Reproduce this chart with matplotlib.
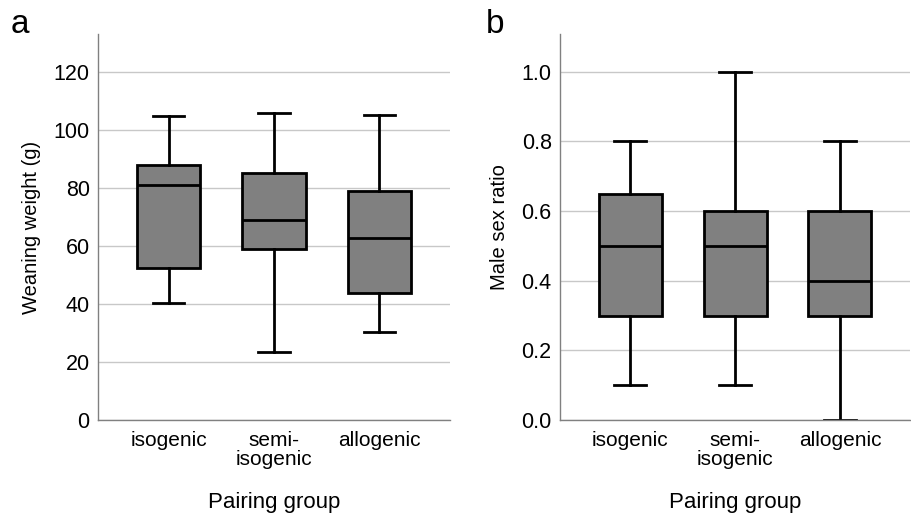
import matplotlib
matplotlib.use("Agg")
import matplotlib.pyplot as plt

plt.rcParams['font.family'] = ['Liberation Sans', 'DejaVu Sans']

# categories
groups = ['isogenic', 'semi-\nisogenic', 'allogenic']

# panel a: weaning weight (g)
ww_low = [40.2, 23.3, 30.2]
ww_q1 = [52.5, 59.0, 43.7]
ww_med = [80.9, 68.9, 62.6]
ww_q3 = [87.9, 85.2, 79.0]
ww_high = [104.6, 105.7, 105.2]

# panel b: male sex ratio
sr_low = [0.1, 0.1, 0.0]
sr_q1 = [0.3, 0.3, 0.3]
sr_med = [0.5, 0.5, 0.4]
sr_q3 = [0.65, 0.6, 0.6]
sr_high = [0.8, 1.0, 0.8]


def make_stats(low, q1, med, q3, high):
    return [dict(whislo=a, q1=b, med=c, q3=d, whishi=e, fliers=[])
            for a, b, c, d, e in zip(low, q1, med, q3, high)]


def draw_panel(ax, stats, yticks, ylim, ylabel, fmt):
    ax.bxp(stats, positions=[1, 2, 3], widths=0.6, showfliers=False,
           patch_artist=True,
           boxprops=dict(facecolor='#808080', edgecolor='black', linewidth=2),
           medianprops=dict(color='black', linewidth=2),
           whiskerprops=dict(color='black', linewidth=2),
           capprops=dict(color='black', linewidth=2),
           capwidths=0.3)
    ax.set_xlim(0.33, 3.67)
    ax.set_ylim(*ylim)
    ax.set_yticks(yticks)
    ax.set_yticklabels([fmt.format(v) for v in yticks], fontsize=15.5)
    ax.set_xticks([1, 2, 3])
    ax.set_xticklabels(groups, fontsize=15, linespacing=0.95)
    ax.tick_params(length=0)
    ax.tick_params(axis='x', pad=8)
    ax.tick_params(axis='y', pad=6)
    ax.yaxis.grid(True, color='#c8c8c8', linewidth=1)
    ax.set_axisbelow(True)
    for s in ['top', 'right']:
        ax.spines[s].set_visible(False)
    for s in ['left', 'bottom']:
        ax.spines[s].set_color('#808080')
        ax.spines[s].set_linewidth(1)
    ax.set_ylabel(ylabel, fontsize=14.5, labelpad=9)
    ax.set_xlabel('Pairing group', fontsize=16, labelpad=17)


fig = plt.figure(figsize=(9.12, 5.13), dpi=100)
ax1 = fig.add_axes([0.1075, 0.181, 0.386, 0.753])
ax2 = fig.add_axes([0.614, 0.181, 0.384, 0.753])

draw_panel(ax1, make_stats(ww_low, ww_q1, ww_med, ww_q3, ww_high),
           [0, 20, 40, 60, 80, 100, 120], (0, 133), 'Weaning weight (g)', '{:.0f}')
draw_panel(ax2, make_stats(sr_low, sr_q1, sr_med, sr_q3, sr_high),
           [0.0, 0.2, 0.4, 0.6, 0.8, 1.0], (0, 1.109), 'Male sex ratio', '{:.1f}')

fig.text(0.012, 0.953, 'a', fontsize=24, va='center')
fig.text(0.533, 0.953, 'b', fontsize=24, va='center')

fig.savefig('out.png', dpi=100)
